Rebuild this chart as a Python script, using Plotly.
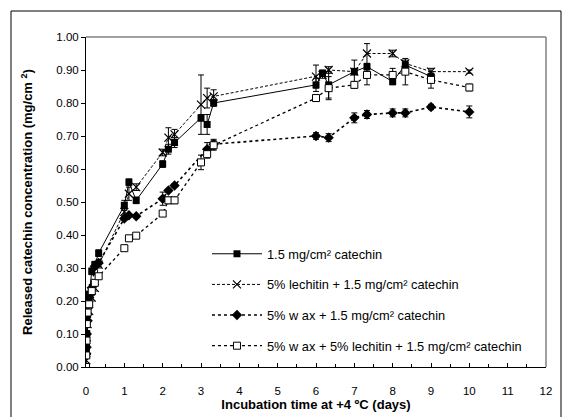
import plotly.graph_objects as go

# Sampling times (days)
times = [0, 0.007, 0.014, 0.021, 0.042, 0.083, 0.15, 0.23, 0.33,
         1, 1.12, 1.31, 2, 2.15, 2.31, 3, 3.16, 3.33,
         6, 6.17, 6.33, 7, 7.33, 8, 8.33, 9, 10]

catechin = [None, 0.05, 0.06, 0.10, 0.16, 0.22, 0.29, 0.31, 0.345,
            0.49, 0.56, 0.505, 0.615, 0.66, 0.68, 0.755, 0.735, 0.80,
            0.855, 0.89, 0.855, 0.895, 0.91, 0.865, 0.915, 0.88, None]
catechin_err = [0, 0.005, 0.005, 0.01, 0.01, 0.01, 0.01, 0.01, 0.01,
                0.015, 0.01, 0.01, 0.01, 0.015, 0.015, 0.01, 0.03, 0.01,
                0.02, 0.01, 0.04, 0.01, 0.01, 0.01, 0.01, 0.01, 0]

lechitin = [0.0, 0.02, 0.05, 0.09, 0.13, 0.17, 0.21, 0.24, 0.31,
            0.47, 0.525, 0.545, 0.65, 0.695, 0.705, 0.795, 0.815, 0.82,
            0.88, 0.885, 0.90, 0.895, 0.95, 0.95, 0.92, 0.895, 0.895]
lechitin_err = [0.01, 0.01, 0.01, 0.01, 0.01, 0.01, 0.01, 0.01, 0.01,
                0.01, 0.02, 0.01, 0.01, 0.03, 0.015, 0.09, 0.03, 0.02,
                0.035, 0.01, 0.01, 0.035, 0.03, 0.01, 0.01, 0.01, 0.005]

wax = [None, 0.04, 0.06, 0.10, 0.14, 0.21, 0.24, 0.305, 0.315,
       0.45, 0.46, 0.457, 0.51, 0.535, 0.55, None, 0.66, 0.675,
       0.70, None, 0.695, 0.755, 0.765, 0.77, 0.77, 0.788, 0.773]
wax_err = [0, 0.005, 0.005, 0.01, 0.01, 0.01, 0.01, 0.01, 0.01,
           0.005, 0.005, 0.005, 0.02, 0.005, 0.005, 0, 0.02, 0.015,
           0.01, 0, 0.012, 0.015, 0.012, 0.012, 0.012, 0.008, 0.018]

wax_lechitin = [0.0, 0.035, 0.08, 0.13, 0.165, 0.19, 0.23, 0.255, 0.275,
                0.36, 0.39, 0.398, 0.465, 0.505, 0.505, 0.62, 0.645, 0.672,
                0.815, None, 0.845, 0.855, 0.885, 0.885, 0.895, 0.87, 0.847]
wax_lechitin_err = [0.005, 0.005, 0.005, 0.005, 0.005, 0.005, 0.005, 0.005, 0.005,
                    0.005, 0.005, 0.005, 0.008, 0.01, 0.01, 0.022, 0.012, 0.015,
                    0.01, 0, 0.035, 0.01, 0.03, 0.02, 0.04, 0.025, 0.01]

names = ["1.5 mg/cm² catechin",
         "5% lechitin + 1.5 mg/cm² catechin",
         "5% w ax + 1.5 mg/cm² catechin",
         "5% w ax + 5% lechitin + 1.5 mg/cm² catechin"]

fig = go.Figure()

styles = [
    dict(y=catechin, e=catechin_err, line=dict(color="black", width=1, dash="solid"),
         marker=dict(symbol="square", size=7, color="black")),
    dict(y=lechitin, e=lechitin_err, line=dict(color="black", width=1, dash="3px,2px"),
         marker=dict(symbol="x-thin", size=8, color="black", line=dict(color="black", width=1.2))),
    dict(y=wax, e=wax_err, line=dict(color="black", width=1.6, dash="dot"),
         marker=dict(symbol="diamond", size=8, color="black")),
    dict(y=wax_lechitin, e=wax_lechitin_err, line=dict(color="black", width=1.3, dash="dot"),
         marker=dict(symbol="square", size=7, color="white", line=dict(color="black", width=1))),
]

for i, (nm, st) in enumerate(zip(names, styles)):
    fig.add_trace(go.Scatter(
        x=times, y=st["y"], name=nm, mode="lines+markers",
        line=st["line"], marker=st["marker"], connectgaps=True,
        legendgroup=f"g{i}",
        error_y=dict(type="data", array=st["e"], visible=True,
                     color="black", thickness=1, width=3),
    ))

fig.update_layout(
    width=562, height=417,
    margin=dict(l=86, r=16, t=37, b=50),
    paper_bgcolor="white", plot_bgcolor="white",
    font=dict(family="Arial, Liberation Sans, sans-serif", size=11, color="black"),
    showlegend=True,
    legend=dict(x=0.263, y=0.388, xanchor="left", yanchor="top",
                bgcolor="rgba(0,0,0,0)", borderwidth=0,
                font=dict(size=12.8), itemwidth=50, tracegroupgap=11),
    xaxis=dict(range=[0, 12], dtick=1, tick0=0, showgrid=False, zeroline=False,
               showline=True, linecolor="black", linewidth=1, automargin=False,
               ticks="inside", ticklen=4, tickcolor="black", ticklabelstandoff=13,
               tickfont=dict(size=11.5),
               minor=dict(dtick=0.5, ticks="inside", ticklen=3, tickcolor="black"),
               title=dict(text="<b>Incubation time at +4 ºC (days)</b>",
                          font=dict(size=13), standoff=3)),
    yaxis=dict(range=[0, 1], dtick=0.1, tick0=0, tickformat=".2f",
               showgrid=False, zeroline=False, automargin=False,
               showline=True, linecolor="black", linewidth=1,
               ticks="outside", ticklen=4, tickcolor="black",
               tickfont=dict(size=11.5),
               title=dict(text="<b>Released catechin concentration (mg/cm <sup>2</sup>)</b>",
                          font=dict(size=13), standoff=20)),
    shapes=[
        dict(type="line", xref="paper", yref="paper", x0=0, x1=1, y0=1, y1=1,
             line=dict(color="#808080", width=1.5)),
        dict(type="line", xref="paper", yref="paper", x0=1, x1=1, y0=0, y1=1,
             line=dict(color="#808080", width=1.5)),
        dict(type="rect", xref="paper", yref="paper",
             x0=(11 - 86) / 460, x1=(561 - 86) / 460,
             y0=-0.3, y1=1 + (37 - 11) / 330,
             line=dict(color="black", width=1)),
    ],
)

fig.write_html("out.html", config={"displayModeBar": False},
               post_script="document.body.style.margin='0px';")
